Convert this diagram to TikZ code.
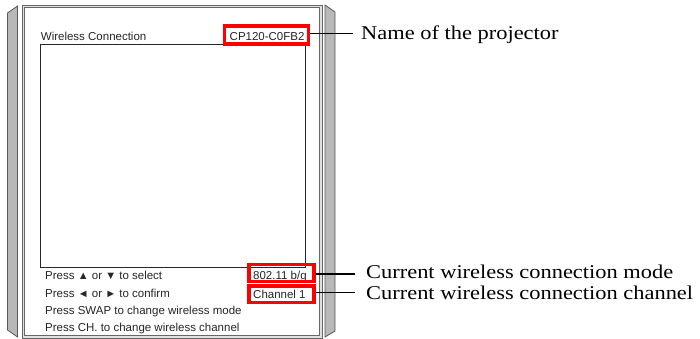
\documentclass[tikz,border=0pt]{standalone}
\usepackage{fontspec}
\setmainfont{Liberation Sans}
\newfontfamily\labelfont[FakeStretch=1.15]{Liberation Serif}
\newcommand{\tri}[1]{{\fontsize{11}{11}\selectfont #1}}
\begin{document}
\begin{tikzpicture}[x=1pt,y=-1pt,
  ui/.style={font=\fontsize{11.5}{13}\selectfont, inner sep=0pt, anchor=base west, text=black!85},
  lbl/.style={font=\labelfont\fontsize{19.5}{22}\selectfont, inner sep=0pt, anchor=base west, text height=13.5pt, text depth=3.5pt},
  redbox/.style={draw=red, line width=3.5pt, inner sep=0pt},
  leader/.style={line width=1.5pt, black},
  bar/.style={fill=black!28, draw=black!65, line width=0.8pt, line join=miter},
  frameline/.style={draw=black!60, line width=0.8pt}]
\useasboundingbox (0,0) rectangle (700,338);
% side bars
\draw[bar] (7.5,13) -- (17.5,6) -- (17.5,337) -- (7.5,330) -- cycle;
\draw[bar] (325,5) -- (335,12) -- (335,331) -- (325,337) -- cycle;
% frame (double line)
\filldraw[frameline, fill=black!12] (22,5) rectangle (322.7,338.5);
\filldraw[frameline, fill=white] (24.7,7.3) rectangle (319.3,335);
% screen
\draw[line width=0.8pt, black!85] (40,44) rectangle (305,267);
% texts
\node[ui] (title) at (40.7,40.7) {Wireless Connection};
\node[ui] (cp) at (229.5,40.7) {CP120-C0FB2};
\node[ui] (l1) at (45,279.5) {Press \tri{▲} or \tri{▼} to select};
\node[ui] (l2) at (45,297) {Press \tri{◄} or \tri{►} to confirm};
\node[ui] (l3) at (45,314) {Press SWAP to change wireless mode};
\node[ui] (l4) at (45,331) {Press CH. to change wireless channel};
\node[ui] (mode) at (253,279.5) {802.11 b/g};
\node[ui] (chan) at (253,298) {Channel 1};
% red boxes
\node[redbox, minimum width=83.7pt, minimum height=18.4pt] (cpbox) at (266.4,35) {};
\node[redbox, minimum width=64.6pt, minimum height=16.6pt] (modebox) at (281.5,273) {};
\node[redbox, minimum width=64.6pt, minimum height=16.6pt] (chanbox) at (281.5,294.2) {};
% leaders
\coordinate (e1) at (353,33.5);
\coordinate (e2) at (355,274);
\coordinate (e3) at (355,292.5);
\draw[leader] (cpbox.east |- e1) -- (e1);
\draw[leader] (modebox.east |- e2) -- (e2);
\draw[leader] (chanbox.east |- e3) -- (e3);
\node[lbl] (n1) at (361,39.5) {Name of the projector};
\node[lbl] (n2) at (366,278.2) {Current wireless connection mode};
\node[lbl] (n3) at (366,299.4) {Current wireless connection channel};
\end{tikzpicture}
\end{document}
